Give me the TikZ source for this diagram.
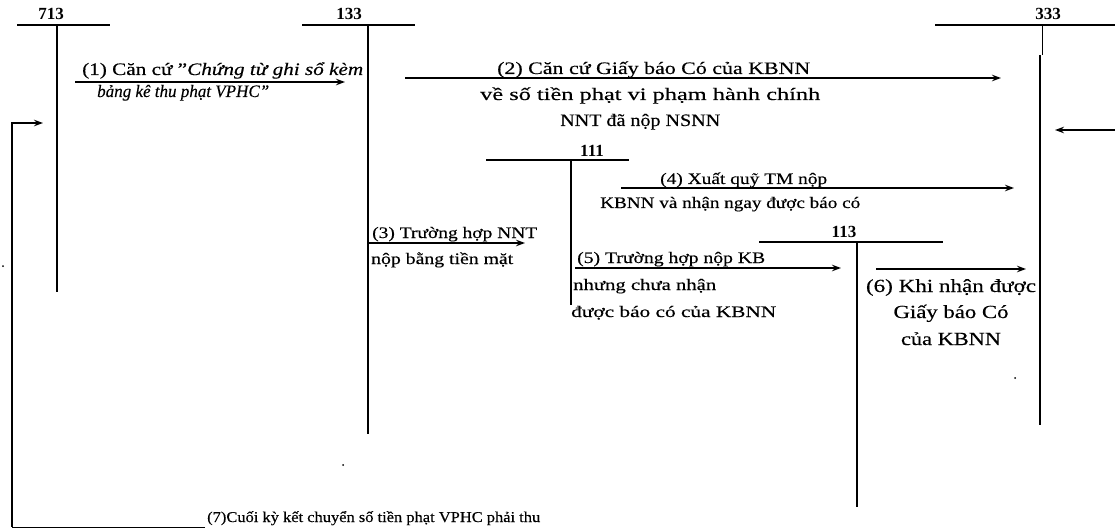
\documentclass[tikz,border=0pt]{standalone}
\usepackage{fontspec}
\usepackage{graphicx}
\setmainfont{Liberation Serif}[FakeBold=0.3]
\newfontfamily\numfont{Liberation Serif}
\newcommand\fitw[2]{\resizebox{#1}{\height}{#2}}
\usetikzlibrary{arrows.meta}
\begin{document}
\begin{tikzpicture}[x=1pt,y=-1pt,
  acc/.style={line width=2.2pt},
  arr/.style={line width=1.7pt,-{Stealth[length=9pt,width=6.5pt]}},
  txt/.style={inner sep=0pt,anchor=base west,font=\fontsize{17.5}{20}\selectfont},
  txts/.style={inner sep=0pt,anchor=base west,font=\fontsize{16}{18}\selectfont},
  txtb/.style={inner sep=0pt,anchor=base,font=\fontsize{18.5}{22}\selectfont},
  txtt/.style={inner sep=0pt,anchor=base west,font=\fontsize{15}{17}\selectfont},
  num/.style={inner sep=0pt,anchor=base,font=\numfont\bfseries\fontsize{17}{20}\selectfont},
  speck/.style={fill=black,inner sep=0pt,minimum size=2pt,circle}]
\useasboundingbox (0,0) rectangle (1115,529);
% ---- T-accounts ----
\node[num] (n713) at (51,20) {713};
\coordinate (h713l) at (17,25); \coordinate (h713r) at (110,25);
\coordinate (v713t) at (57,25); \coordinate (v713b) at (57,292);
\draw[acc] (h713l) -- (h713r);
\draw[acc] (v713t) -- (v713b);

\node[num] (n133) at (349,20) {133};
\coordinate (h133l) at (302,25); \coordinate (h133r) at (415,25);
\coordinate (v133t) at (368,25); \coordinate (v133b) at (368,434);
\draw[acc] (h133l) -- (h133r);
\draw[acc] (v133t) -- (v133b);

\node[num] (n333) at (1048,20) {333};
\coordinate (h333l) at (935,25); \coordinate (h333r) at (1115,25);
\coordinate (v333t) at (1042,25); \coordinate (v333m) at (1042,55);
\coordinate (v333u) at (1040,55); \coordinate (v333b) at (1040,425);
\draw[acc] (h333l) -- (h333r);
\draw[line width=1pt] (v333t) -- (v333m);
\draw[acc] (v333u) -- (v333b);

\node[num] (n111) at (592,157) {111};
\coordinate (h111l) at (486,160); \coordinate (h111r) at (629,160);
\coordinate (v111t) at (571,160); \coordinate (v111b) at (571,305);
\draw[acc] (h111l) -- (h111r);
\draw[acc] (v111t) -- (v111b);

\node[num] (n113) at (844,237) {113};
\coordinate (h113l) at (759,242); \coordinate (h113r) at (943,242);
\coordinate (v113t) at (857,242); \coordinate (v113b) at (857,507);
\draw[acc] (h113l) -- (h113r);
\draw[acc] (v113t) -- (v113b);

% ---- (1) ----
\coordinate (a1s) at (75,82); \coordinate (a1e) at (345,82);
\draw[arr] (a1s) -- (a1e);
\node[txt] (t1a) at (82,75) {\fitw{281pt}{(1) Căn cứ "\textit{Chứng từ ghi sổ kèm}}};
\node[txt] (t1b) at (97,97) {\fitw{172pt}{\textit{bảng kê thu phạt VPHC"}}};

% ---- (2) ----
\coordinate (a2s) at (405,78); \coordinate (a2e) at (1001,78);
\draw[arr] (a2s) -- (a2e);
\node[txt] (t2a) at (497,74) {\fitw{313pt}{(2) Căn cứ Giấy báo Có của KBNN}};
\node[txt] (t2b) at (480,100) {\fitw{340pt}{về số tiền phạt vi phạm hành chính}};
\node[txt] (t2c) at (560,126) {\fitw{160pt}{NNT đã nộp NSNN}};

% ---- arrow into 333 from the right ----
\coordinate (a8s) at (1115,130); \coordinate (a8e) at (1055,130);
\draw[arr] (a8s) -- (a8e);

% ---- (4) ----
\coordinate (a4s) at (621,188); \coordinate (a4e) at (1014,188);
\draw[arr] (a4s) -- (a4e);
\node[txts] (t4a) at (660,184) {\fitw{167pt}{(4) Xuất quỹ TM nộp}};
\node[txts] (t4b) at (600,208) {\fitw{260pt}{KBNN và nhận ngay được báo có}};

% ---- (3) ----
\coordinate (a3s) at (368,243); \coordinate (a3e) at (525,243);
\draw[arr] (a3s) -- (a3e);
\node[txts] (t3a) at (372,238) {\fitw{165pt}{(3) Trường hợp NNT}};
\node[txts] (t3b) at (371,264) {\fitw{142pt}{nộp bằng tiền mặt}};

% ---- (5) ----
\coordinate (a5s) at (575,268); \coordinate (a5e) at (841,268);
\draw[arr] (a5s) -- (a5e);
\node[txts] (t5a) at (577,263) {\fitw{188pt}{(5) Trường hợp nộp KB}};
\node[txts] (t5b) at (573,290) {\fitw{143pt}{nhưng chưa nhận}};
\node[txts] (t5c) at (571,317) {\fitw{205pt}{được báo có của KBNN}};

% ---- (6) ----
\coordinate (a6s) at (876,269); \coordinate (a6e) at (1026,269);
\draw[arr] (a6s) -- (a6e);
\node[txtb] (t6a) at (951,292) {\fitw{170pt}{(6) Khi nhận được}};
\node[txtb] (t6b) at (951,318) {\fitw{115pt}{Giấy báo Có}};
\node[txtb] (t6c) at (951,345) {\fitw{100pt}{của KBNN}};

% ---- (7) ----
\coordinate (a7s) at (205,527); \coordinate (a7c1) at (12,527);
\coordinate (a7c2) at (12,123); \coordinate (a7e) at (43,123);
\draw[line width=1pt] (a7s) -- (a7c1);
\draw[arr] (a7c1) -- (a7c2) -- (a7e);
\node[txtt] (t7) at (207,522) {\fitw{333pt}{(7)Cuối kỳ kết chuyển số tiền phạt VPHC phải thu}};

% ---- specks ----
\node[speck] (s1) at (3,266) {};
\node[speck] (s2) at (343,465) {};
\node[speck] (s3) at (1015,378) {};
\end{tikzpicture}
\end{document}
